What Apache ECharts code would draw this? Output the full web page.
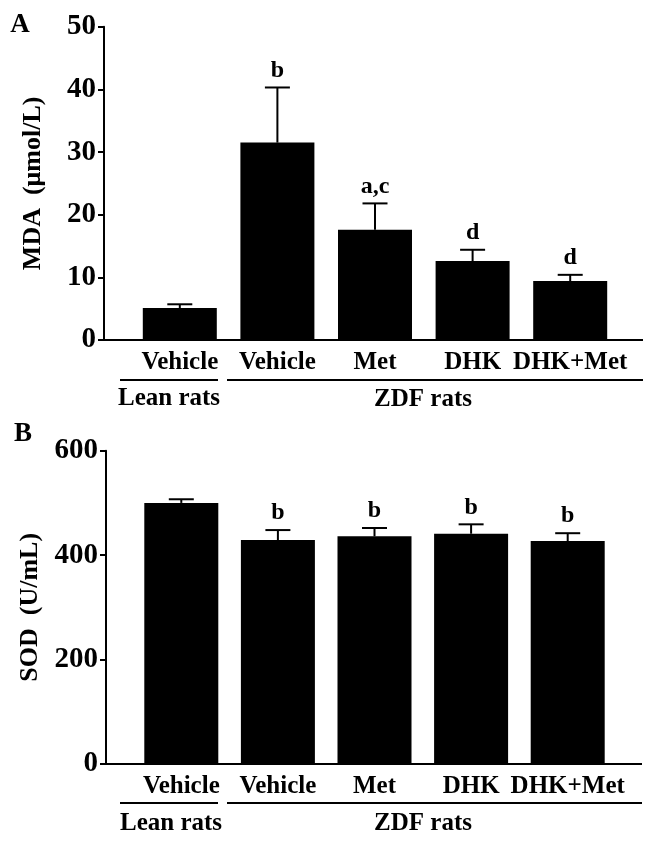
<!DOCTYPE html>
<html><head><meta charset="utf-8">
<script src="https://cdn.jsdelivr.net/npm/echarts@6/dist/echarts.min.js"></script>
<style>html,body{margin:0;padding:0;background:#fff}#c{width:655px;height:841px}</style>
</head><body><div id="c"></div>
<script>
var categories = ['Vehicle', 'Vehicle', 'Met', 'DHK', 'DHK+Met'];
var mdaMean = [5.1, 31.5, 17.6, 12.6, 9.4];
var mdaUpper = [5.7, 40.3, 21.8, 14.4, 10.4];
var mdaLetters = ['', 'b', 'a,c', 'd', 'd'];
var sodMean = [500, 429, 436, 441, 427];
var sodUpper = [507, 448, 452, 459, 442];
var sodLetters = ['', 'b', 'b', 'b', 'b'];
var mdaTicks = [0, 10, 20, 30, 40, 50];
var sodTicks = [0, 200, 400, 600];

var FF = '"Liberation Serif", "Times New Roman", serif';
var chart = echarts.init(document.getElementById('c'), null, {renderer: 'canvas'});

function errRender(letters) {
  return function (params, api) {
    var x = api.value(0), v = api.value(1), e = api.value(2);
    var p0 = api.coord([x, v]);
    var p1 = api.coord([x, e]);
    var hw = 12.5;
    var st = {stroke: '#000', lineWidth: 2};
    return {
      type: 'group',
      children: [
        {type: 'line', shape: {x1: p0[0], y1: p0[1], x2: p1[0], y2: p1[1]}, style: st},
        {type: 'line', shape: {x1: p1[0] - hw, y1: p1[1], x2: p1[0] + hw, y2: p1[1]}, style: st},
        {type: 'text', x: p1[0], y: p1[1] - 17, style: {
          text: letters[params.dataIndex], fontFamily: FF, fontWeight: 'bold', fontSize: 24,
          fill: '#000', align: 'center', verticalAlign: 'middle'}}
      ]
    };
  };
}

function xAxisOpt(gi) {
  return {
    type: 'category', gridIndex: gi, data: categories,
    axisLine: {show: false}, axisTick: {show: false},
    axisLabel: {color: '#000', fontFamily: FF, fontWeight: 'bold', fontSize: 25, margin: 10, interval: 0}
  };
}
function yAxisOpt(gi, name, max, interval, offset) {
  return {
    type: 'value', gridIndex: gi, min: 0, max: max, interval: interval, offset: offset,
    name: name, nameLocation: 'middle', nameGap: 58,
    nameTextStyle: {color: '#000', fontFamily: FF, fontWeight: 'bold', fontSize: 26},
    splitLine: {show: false},
    axisLine: {show: true, lineStyle: {color: '#000', width: 2}},
    axisTick: {show: true, length: 6, lineStyle: {color: '#000', width: 2}},
    axisLabel: {color: '#000', fontFamily: FF, fontWeight: 'bold', fontSize: 29, margin: 8, padding: [8, 0, 0, 0]}
  };
}

function textG(t, x, y, size) {
  return {type: 'text', x: x, y: y, style: {text: t, fontFamily: FF, fontWeight: 'bold', fontSize: size,
    fill: '#000', align: 'center', verticalAlign: 'middle'}};
}
function lineG(x1, y1, x2, y2) {
  return {type: 'line', shape: {x1: x1, y1: y1, x2: x2, y2: y2}, style: {stroke: '#000', lineWidth: 2}};
}

chart.setOption({
  animation: false,
  grid: [
    {left: 131, width: 488, top: 26.7, height: 313.3},
    {left: 133, width: 483, top: 450.7, height: 313.3}
  ],
  xAxis: [xAxisOpt(0), xAxisOpt(1)],
  yAxis: [
    yAxisOpt(0, 'MDA  (μmol/L)', 50, 10, 27),
    yAxisOpt(1, 'SOD  (U/mL)', 600, 200, 27)
  ],
  series: [
    {type: 'bar', xAxisIndex: 0, yAxisIndex: 0, data: mdaMean, barWidth: 74, itemStyle: {color: '#000'}, z: 2},
    {type: 'custom', xAxisIndex: 0, yAxisIndex: 0, renderItem: errRender(mdaLetters), z: 3,
      data: mdaMean.map(function (v, i) { return [i, v, mdaUpper[i]]; })},
    {type: 'bar', xAxisIndex: 1, yAxisIndex: 1, data: sodMean, barWidth: 74, itemStyle: {color: '#000'}, z: 2},
    {type: 'custom', xAxisIndex: 1, yAxisIndex: 1, renderItem: errRender(sodLetters), z: 3,
      data: sodMean.map(function (v, i) { return [i, v, sodUpper[i]]; })}
  ],
  graphic: [
    textG('A', 20, 25, 27),
    textG('B', 23, 434, 27),
    lineG(104, 340, 643, 340),
    lineG(106, 764, 642, 764),
    lineG(120, 380, 218, 380),
    lineG(227, 380, 643, 380),
    lineG(120, 803, 218, 803),
    lineG(227, 803, 642, 803),
    textG('Lean rats', 169, 399, 25),
    textG('ZDF rats', 423, 400, 25),
    textG('Lean rats', 171, 824, 25),
    textG('ZDF rats', 423, 824, 25)
  ]
});
</script></body></html>
